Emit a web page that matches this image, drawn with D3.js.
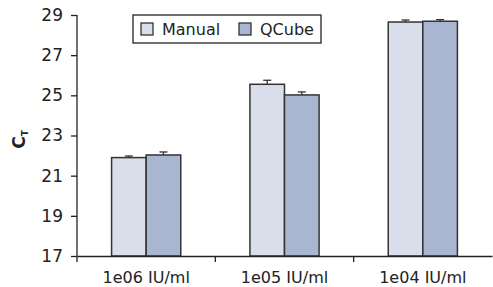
<!DOCTYPE html>
<html>
<head>
<meta charset="utf-8">
<script src="https://cdn.jsdelivr.net/npm/d3@7"></script>
<style>
  html, body { margin: 0; padding: 0; background: #fff; }
  text { font-family: "DejaVu Sans", sans-serif; fill: #222; }
</style>
</head>
<body>
<div id="chart"></div>
<script>
// Ct values
const categories = ['1e06 IU/ml', '1e05 IU/ml', '1e04 IU/ml'];
const series = ['Manual', 'QCube'];
const manualValues = [21.9, 25.55, 28.65];
const manualErrors = [0.08, 0.2, 0.1];
const qcubeValues = [22.03, 25.02, 28.69];
const qcubeErrors = [0.15, 0.15, 0.08];
const yTicks = [17, 19, 21, 23, 25, 27, 29];
const colors = ['#d9deeb', '#a9b6d2'];

const width = 493, height = 287;
const margin = { top: 15, right: 0, bottom: 31, left: 77 };

const svg = d3.select('#chart').append('svg')
    .attr('width', width)
    .attr('height', height);

const x = d3.scaleBand()
    .domain(categories)
    .range([margin.left, width - 1])
    .paddingInner(0)
    .paddingOuter(0);

// two bars fill the middle half of each category
const xSub = d3.scaleBand()
    .domain(series)
    .range([0, x.bandwidth()])
    .paddingOuter(1);

const y = d3.scaleLinear()
    .domain([17, 29])
    .range([height - margin.bottom, margin.top]);

const rows = categories.map((c, i) => ({
    cat: c,
    bars: [
        { s: 'Manual', v: manualValues[i], e: manualErrors[i] },
        { s: 'QCube', v: qcubeValues[i], e: qcubeErrors[i] }
    ]
}));

// bars
const groups = svg.append('g')
    .selectAll('g')
    .data(rows)
    .join('g')
    .attr('transform', d => `translate(${x(d.cat)},0)`);

groups.selectAll('rect')
    .data(d => d.bars)
    .join('rect')
    .attr('x', d => xSub(d.s))
    .attr('width', xSub.bandwidth())
    .attr('y', d => y(d.v))
    .attr('height', d => y(17) - y(d.v))
    .attr('fill', (d, i) => colors[i])
    .attr('stroke', '#333')
    .attr('stroke-width', 1.5);

// error bars (upper only)
const err = groups.selectAll('g.err')
    .data(d => d.bars)
    .join('g')
    .attr('class', 'err')
    .attr('stroke', '#333')
    .attr('stroke-width', 1.3);

err.append('line')
    .attr('x1', d => xSub(d.s) + xSub.bandwidth() / 2)
    .attr('x2', d => xSub(d.s) + xSub.bandwidth() / 2)
    .attr('y1', d => y(d.v))
    .attr('y2', d => y(d.v + d.e));

err.append('line')
    .attr('x1', d => xSub(d.s) + xSub.bandwidth() / 2 - 4)
    .attr('x2', d => xSub(d.s) + xSub.bandwidth() / 2 + 4)
    .attr('y1', d => y(d.v + d.e))
    .attr('y2', d => y(d.v + d.e));

// y axis
const yAxis = svg.append('g')
    .attr('transform', `translate(${margin.left},0)`)
    .call(d3.axisLeft(y).tickValues(yTicks).tickSize(6).tickPadding(8).tickSizeOuter(0));
yAxis.select('.domain').attr('stroke', '#222').attr('stroke-width', 1.3)
    .attr('d', `M0,${margin.top}V${height - margin.bottom + 6}`);
yAxis.selectAll('.tick line').attr('stroke', '#222').attr('stroke-width', 1.3);
yAxis.selectAll('.tick text').attr('font-size', 17).attr('fill', '#222');

// x axis
const xAxis = svg.append('g')
    .attr('transform', `translate(0,${height - margin.bottom})`)
    .call(d3.axisBottom(x).tickSize(0).tickPadding(15.5).tickSizeOuter(0));
xAxis.select('.domain').attr('stroke', '#222').attr('stroke-width', 1.3);
xAxis.selectAll('.tick text').attr('font-size', 16).attr('fill', '#222');

// boundary ticks between categories
svg.append('g')
    .selectAll('line')
    .data(categories.slice(1))
    .join('line')
    .attr('x1', d => x(d))
    .attr('x2', d => x(d))
    .attr('y1', height - margin.bottom)
    .attr('y2', height - margin.bottom + 6)
    .attr('stroke', '#222')
    .attr('stroke-width', 1.3);

// y label C_T
const yl = svg.append('text')
    .attr('transform', `translate(25,${(y(17) + y(29)) / 2 + 4}) rotate(-90)`)
    .attr('text-anchor', 'middle')
    .attr('font-size', 17)
    .attr('font-weight', 'bold');
yl.append('tspan').text('C');
yl.append('tspan').attr('font-size', 9).attr('dy', 3).text('T');

// legend
const legend = svg.append('g').attr('transform', 'translate(133,15)');
legend.append('rect')
    .attr('width', 188).attr('height', 28)
    .attr('fill', '#fff').attr('stroke', '#222').attr('stroke-width', 1.3);
const items = legend.selectAll('g')
    .data(series)
    .join('g')
    .attr('transform', (d, i) => `translate(${i === 0 ? 8 : 106},8)`);
items.append('rect')
    .attr('width', 12).attr('height', 12)
    .attr('fill', (d, i) => colors[i])
    .attr('stroke', '#333').attr('stroke-width', 1.3);
items.append('text')
    .attr('x', 21).attr('y', 12)
    .attr('font-size', 16)
    .text(d => d);
</script>
</body>
</html>
